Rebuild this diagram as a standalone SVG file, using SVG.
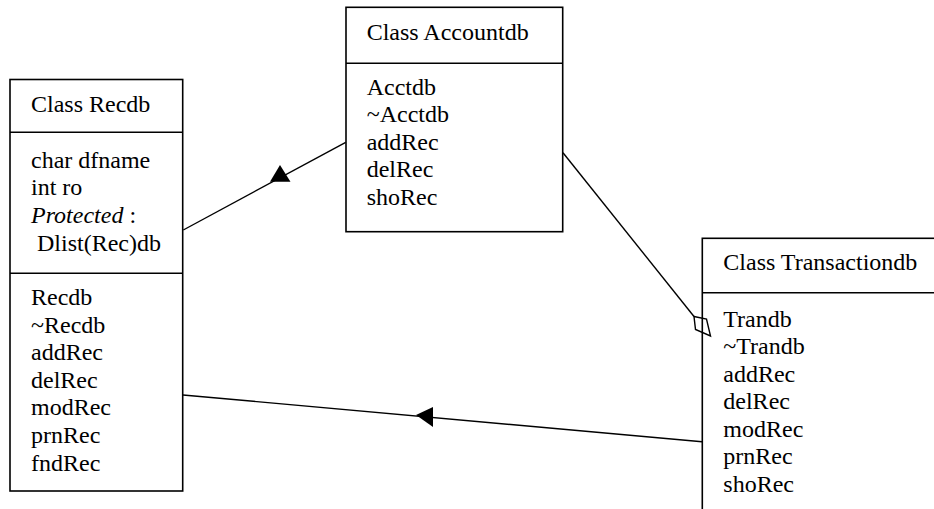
<svg xmlns="http://www.w3.org/2000/svg" width="934" height="509" viewBox="0 0 934 509">
<style>
.box{fill:#fff;stroke:#000;stroke-width:1.6}
.div{stroke:#000;stroke-width:1.6}
.t{font-family:"Liberation Serif","Times New Roman",serif;font-size:24px;fill:#000}
.ln{stroke:#000;stroke-width:1.4;fill:none}
</style>
<rect width="934" height="509" fill="#fff"/>
<g id="recdb">
<rect class="box" x="10" y="79.5" width="172.7" height="411.5"/>
<line class="div" x1="10" y1="132.3" x2="182.7" y2="132.3"/>
<line class="div" x1="10" y1="273.3" x2="182.7" y2="273.3"/>
<text class="t" x="31" y="112.3">Class Recdb</text>
<text class="t" x="31" y="167.7">char dfname</text>
<text class="t" x="31" y="195.3">int ro</text>
<text class="t" x="31" y="222.9"><tspan font-style="italic">Protected</tspan> :</text>
<text class="t" x="31" y="250.5" xml:space="preserve"> Dlist(Rec)db</text>
<text class="t" x="31" y="305">Recdb</text>
<text class="t" x="31" y="332.6">~Recdb</text>
<text class="t" x="31" y="360.2">addRec</text>
<text class="t" x="31" y="387.8">delRec</text>
<text class="t" x="31" y="415.4">modRec</text>
<text class="t" x="31" y="443">prnRec</text>
<text class="t" x="31" y="470.6">fndRec</text>
</g>
<g id="accountdb">
<rect class="box" x="346" y="7.3" width="216.7" height="224.4"/>
<line class="div" x1="346" y1="63.3" x2="562.7" y2="63.3"/>
<text class="t" x="366.7" y="40">Class Accountdb</text>
<text class="t" x="366.7" y="95">Acctdb</text>
<text class="t" x="366.7" y="122.4">~Acctdb</text>
<text class="t" x="366.7" y="149.8">addRec</text>
<text class="t" x="366.7" y="177.2">delRec</text>
<text class="t" x="366.7" y="204.6">shoRec</text>
</g>
<g id="transactiondb">
<rect class="box" x="702.3" y="238.3" width="260" height="300"/>
<line class="div" x1="702.3" y1="292.7" x2="940" y2="292.7"/>
<text class="t" x="723.3" y="270">Class Transactiondb</text>
<text class="t" x="723.3" y="326.5">Trandb</text>
<text class="t" x="723.3" y="354">~Trandb</text>
<text class="t" x="723.3" y="381.5">addRec</text>
<text class="t" x="723.3" y="409">delRec</text>
<text class="t" x="723.3" y="436.5">modRec</text>
<text class="t" x="723.3" y="464">prnRec</text>
<text class="t" x="723.3" y="491.5">shoRec</text>
</g>
<g id="connectors">
<line class="ln" x1="345.7" y1="142.3" x2="183.3" y2="230"/>
<polygon points="280,165 270,181.7 290.5,181.7" fill="#000"/>
<line class="ln" x1="563" y1="152.7" x2="694" y2="316.5"/>
<polygon points="694,316.5 706.5,319 710.5,336 695.5,329.5" fill="none" stroke="#000" stroke-width="1.4"/>
<line class="ln" x1="183" y1="395" x2="702" y2="441.7"/>
<polygon points="416,415 433,407 433,427" fill="#000"/>
</g>
</svg>
